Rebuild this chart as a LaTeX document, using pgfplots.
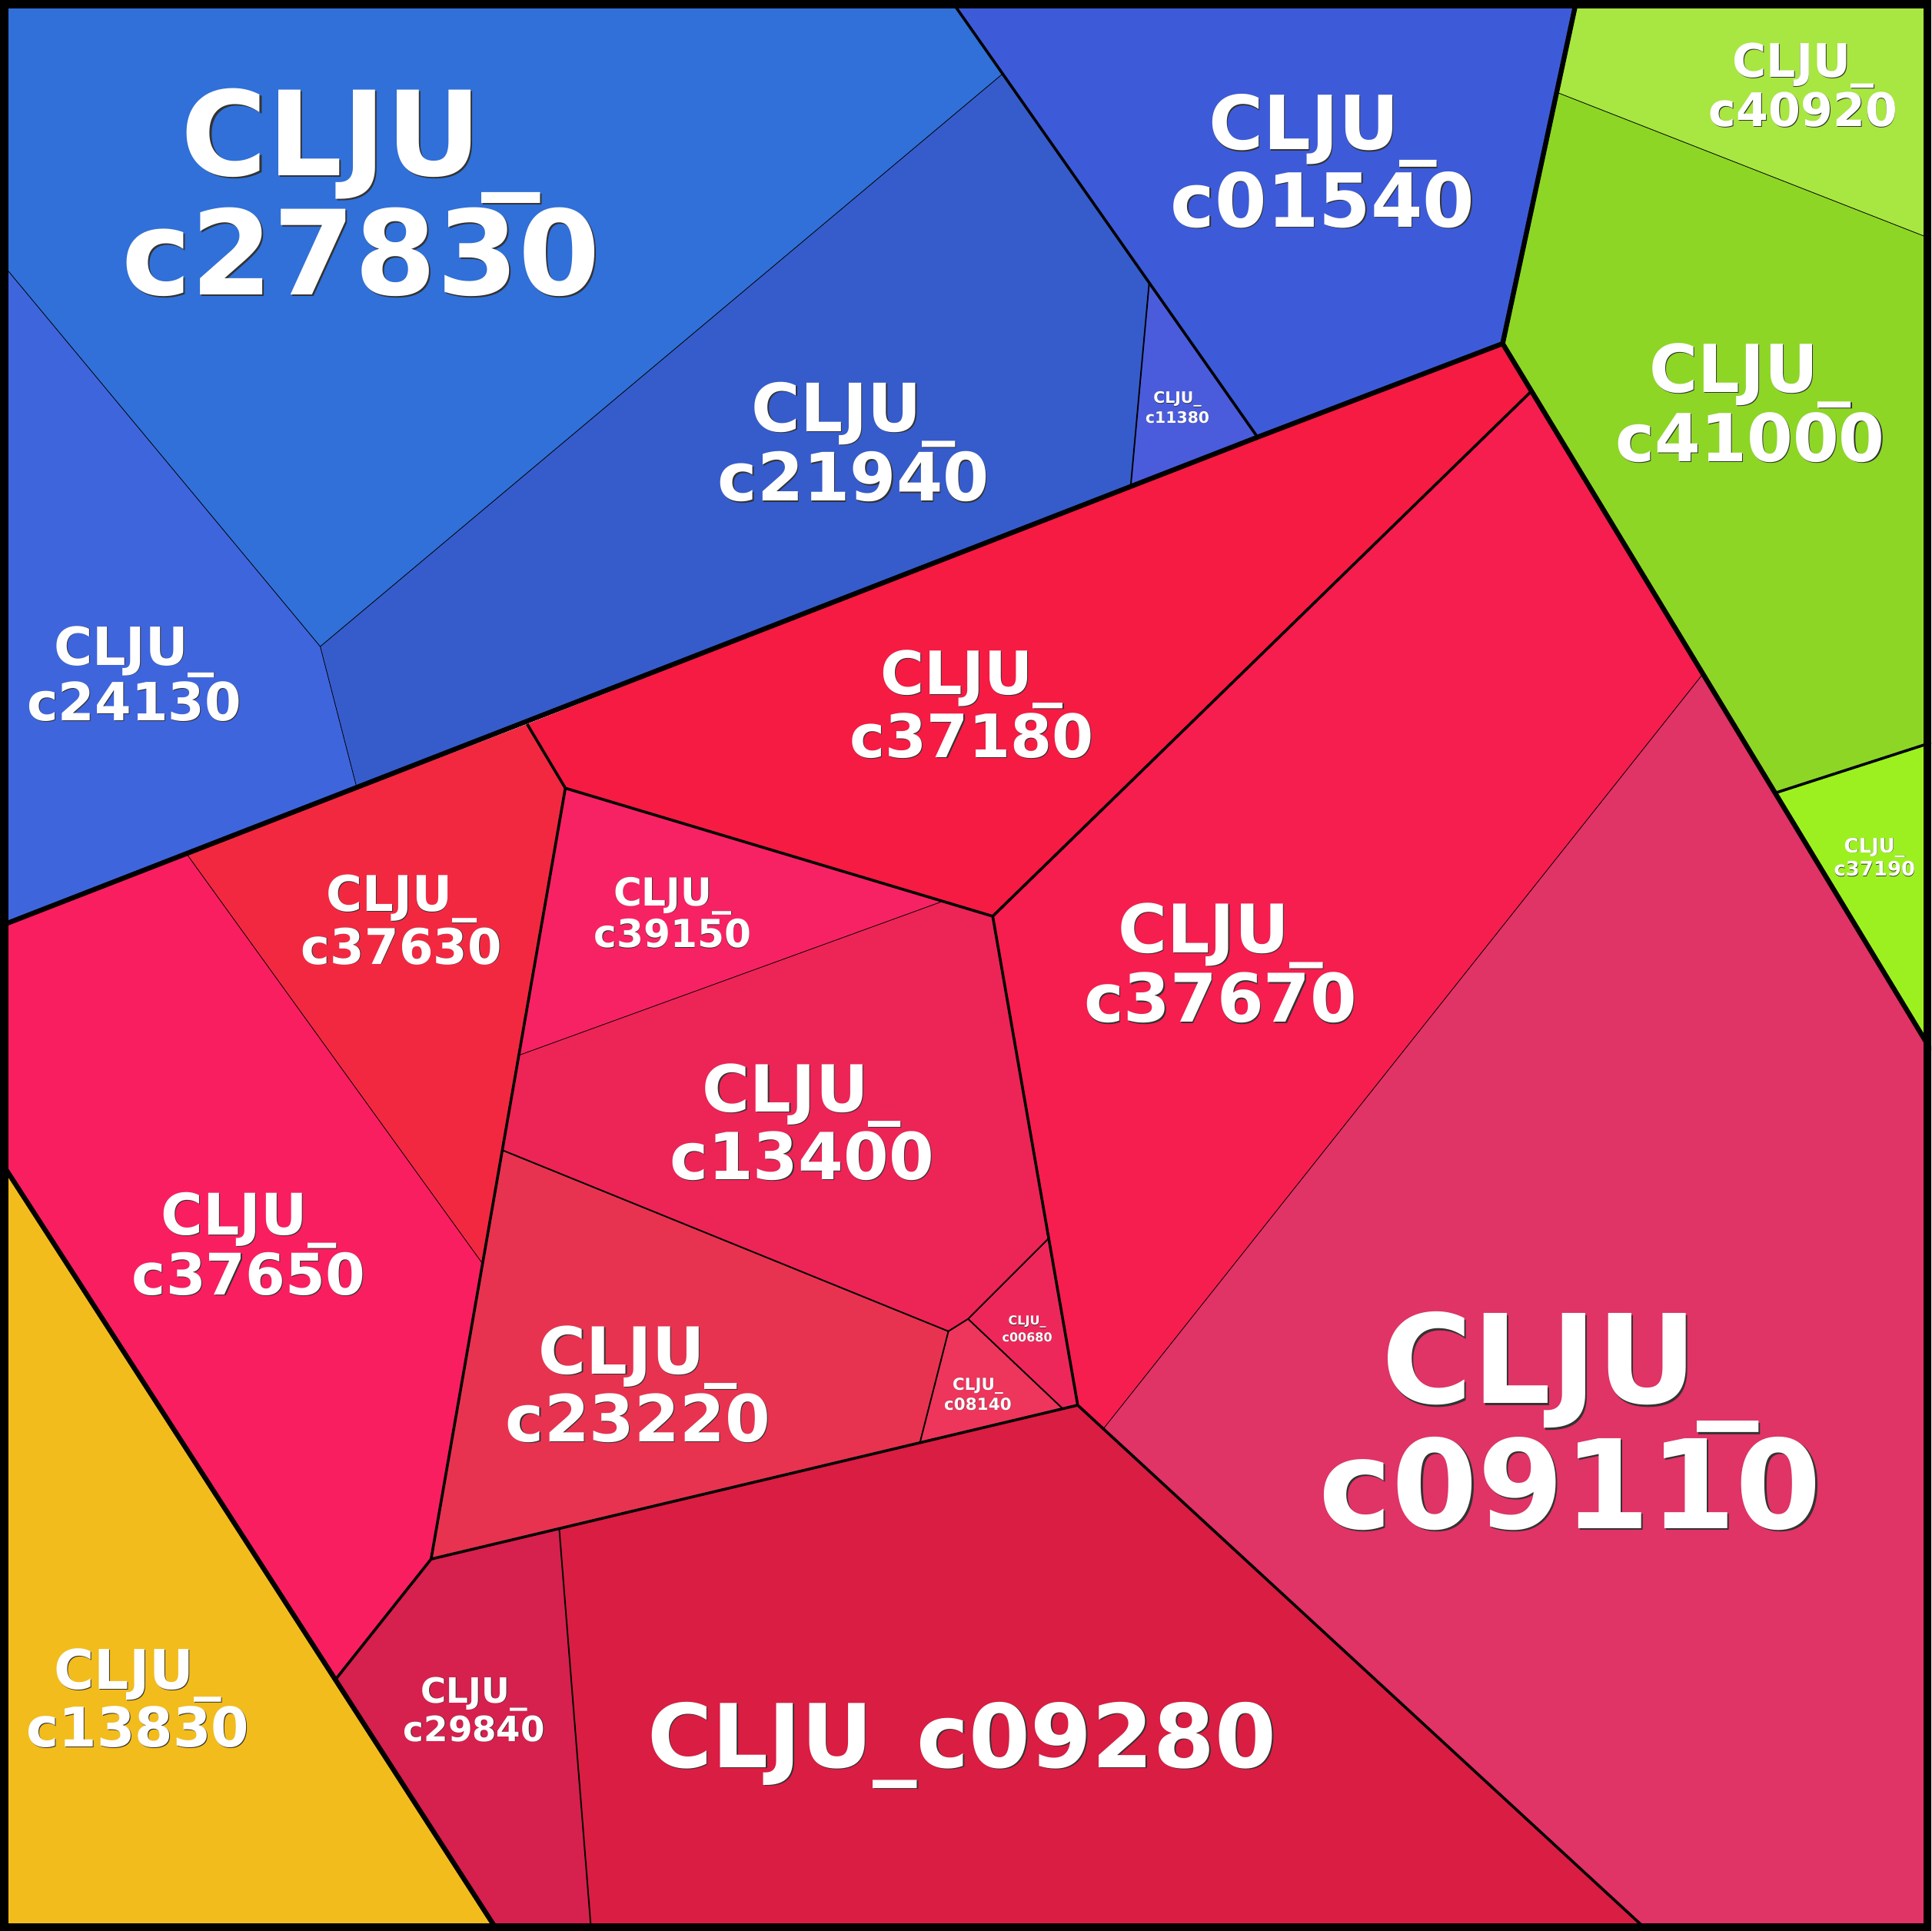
\documentclass[border=0pt]{standalone}
\usepackage{pgfplots}
\pgfplotsset{compat=1.18}
\usepackage{fontspec}
\setmainfont{DejaVu Sans}

\definecolor{cA}{HTML}{3070D8}% c27830
\definecolor{cB}{HTML}{365CCB}% c21940
\definecolor{cC}{HTML}{3F65DD}% c24130
\definecolor{cD}{HTML}{3D5BD8}% c01540
\definecolor{cE}{HTML}{4A5CDC}% c11380
\definecolor{cF}{HTML}{A8E641}% c40920
\definecolor{cG}{HTML}{8DD626}% c41000
\definecolor{cH}{HTML}{9DF020}% c37190
\definecolor{cI}{HTML}{F51B43}% c37180
\definecolor{cJ}{HTML}{F51E4F}% c37670
\definecolor{cK}{HTML}{E03366}% c09110
\definecolor{cL}{HTML}{F22841}% c37630
\definecolor{cM}{HTML}{F72263}% c39150
\definecolor{cN}{HTML}{ED2456}% c13400
\definecolor{cO}{HTML}{F91E60}% c37650
\definecolor{cP}{HTML}{E73350}% c23220
\definecolor{cQ}{HTML}{EE275B}% c00680
\definecolor{cR}{HTML}{EE355C}% c08140
\definecolor{cS}{HTML}{D6204E}% c29840
\definecolor{cT}{HTML}{DA1D42}% c09280
\definecolor{cU}{HTML}{F2BC1D}% c13830

\newcommand{\lab}[5]{%
  \node[font=\fontsize{#3}{#4}\selectfont\bfseries, align=center, inner sep=0pt,
        text=black!80, xshift={0.014*#3pt}, yshift={-0.014*#3pt}] at (axis cs:#1,#2) {#5};
  \node[font=\fontsize{#3}{#4}\selectfont\bfseries, align=center, inner sep=0pt,
        text=white] at (axis cs:#1,#2) {#5};
}

\begin{document}
\begin{tikzpicture}
\begin{axis}[width=16cm, height=16cm, scale only axis, hide axis,
  xmin=0, xmax=1568, ymin=0, ymax=1568, y dir=reverse, clip=true]

% ---- cells ----
\addplot[fill=cA, draw=none] coordinates {(0,0) (772,0) (814,60) (260,525) (0,212)};
\addplot[fill=cB, draw=none] coordinates {(814,60) (933,230) (918,395) (290,641) (260,525)};
\addplot[fill=cC, draw=none] coordinates {(0,212) (260,525) (290,641) (0,752)};
\addplot[fill=cD, draw=none] coordinates {(772,0) (1280,0) (1220,279) (1021,355)};
\addplot[fill=cE, draw=none] coordinates {(933,230) (1021,355) (918,395)};
\addplot[fill=cF, draw=none] coordinates {(1280,0) (1568,0) (1568,194) (1264,75)};
\addplot[fill=cG, draw=none] coordinates {(1264,75) (1568,194) (1568,603) (1441,644) (1220,279)};
\addplot[fill=cH, draw=none] coordinates {(1441,644) (1568,603) (1568,852)};
\addplot[fill=cI, draw=none] coordinates {(428,588) (1021,355) (1220,279) (1243,318) (806,744) (459,640)};
\addplot[fill=cJ, draw=none] coordinates {(1243,318) (1382,548) (896,1160) (875,1141) (806,744)};
\addplot[fill=cK, draw=none] coordinates {(1382,548) (1441,644) (1568,852) (1568,1568) (1338,1568) (896,1160)};
\addplot[fill=cT, draw=none] coordinates {(454,1241) (875,1141) (1338,1568) (480,1568)};
\addplot[fill=cS, draw=none] coordinates {(350,1266) (454,1241) (480,1568) (404,1568) (273,1363)};
\addplot[fill=cU, draw=none] coordinates {(0,942) (273,1363) (404,1568) (0,1568)};
\addplot[fill=cO, draw=none] coordinates {(0,752) (152,694) (391,1025) (350,1266) (273,1363) (0,942)};
\addplot[fill=cL, draw=none] coordinates {(152,694) (428,588) (459,640) (391,1025)};
\addplot[fill=cM, draw=none] coordinates {(459,640) (765,732) (421,857)};
\addplot[fill=cN, draw=none] coordinates {(421,857) (765,732) (806,744) (851,1006) (786,1071) (770,1081) (408,934)};
\addplot[fill=cP, draw=none] coordinates {(408,934) (770,1081) (747,1171) (454,1241) (350,1266)};
\addplot[fill=cQ, draw=none] coordinates {(786,1071) (851,1006) (875,1141) (863,1144)};
\addplot[fill=cR, draw=none] coordinates {(770,1081) (786,1071) (863,1144) (747,1171)};

% ---- hairlines ----
\addplot[draw=black, line width=0.15pt] coordinates {(0,212) (260,525) (814,60)};
\addplot[draw=black, line width=0.15pt] coordinates {(260,525) (290,641)};
\addplot[draw=black, line width=0.15pt] coordinates {(1264,75) (1568,194)};
\addplot[draw=black, line width=0.15pt] coordinates {(896,1160) (1382,548)};
\addplot[draw=black, line width=0.15pt] coordinates {(152,694) (391,1025)};
\addplot[draw=black, line width=0.15pt] coordinates {(421,857) (765,732)};
% ---- level 3 ----
\addplot[draw=black, line width=0.35pt] coordinates {(933,230) (918,395)};
\addplot[draw=black, line width=0.35pt] coordinates {(408,934) (770,1081) (786,1071) (851,1006)};
\addplot[draw=black, line width=0.35pt] coordinates {(786,1071) (863,1144)};
\addplot[draw=black, line width=0.35pt] coordinates {(770,1081) (747,1171)};
\addplot[draw=black, line width=0.35pt] coordinates {(454,1241) (480,1568)};
% ---- level 2 ----
\addplot[draw=black, line width=0.65pt] coordinates {(772,0) (1021,355)};
\addplot[draw=black, line width=0.65pt] coordinates {(1441,644) (1568,603)};
\addplot[draw=black, line width=0.65pt] coordinates {(428,588) (459,640) (806,744) (1243,318)};
\addplot[draw=black, line width=0.65pt] coordinates {(806,744) (875,1141) (1338,1568)};
\addplot[draw=black, line width=0.65pt] coordinates {(459,640) (350,1266) (875,1141)};
\addplot[draw=black, line width=0.65pt] coordinates {(273,1363) (350,1266)};
% ---- level 1 ----
\addplot[draw=black, line width=1.15pt] coordinates {(0,752) (1021,355) (1220,279) (1280,0)};
\addplot[draw=black, line width=1.15pt] coordinates {(1220,279) (1568,853)};
\addplot[draw=black, line width=1.15pt] coordinates {(0,942) (404,1568)};
% ---- border ----
\addplot[draw=black, line width=1.9pt] coordinates {(3.3,3.3) (1564.7,3.3) (1564.7,1564.7) (3.3,1564.7) (3.3,3.3) (1564.7,3.3)};

% ---- labels ----
\lab{293}{156}{27.7}{26.6}{CLJU\_\\c27830}
\lab{1275}{1154}{29.1}{28.0}{CLJU\_\\c09110}
\lab{781}{1417}{20.8}{20.0}{CLJU\_c09280}
\lab{1074}{131}{17.6}{16.9}{CLJU\_\\c01540}
\lab{693}{359}{15.7}{15.1}{CLJU\_\\c21940}
\lab{1421}{327}{15.6}{15.0}{CLJU\_\\c41000}
\lab{1464}{69}{10.9}{10.5}{CLJU\_\\c40920}
\lab{109}{547}{12.4}{11.9}{CLJU\_\\c24130}
\lab{789}{572}{14.1}{13.5}{CLJU\_\\c37180}
\lab{991}{782}{15.8}{15.2}{CLJU\_\\c37670}
\lab{326}{747}{11.6}{11.1}{CLJU\_\\c37630}
\lab{546}{741}{9.1}{8.7}{CLJU\_\\c39150}
\lab{651}{911}{15.3}{14.7}{CLJU\_\\c13400}
\lab{202}{1010}{13.5}{13.0}{CLJU\_\\c37650}
\lab{518}{1124}{15.3}{14.7}{CLJU\_\\c23220}
\lab{112}{1379}{12.9}{12.4}{CLJU\_\\c13830}
\lab{385}{1388}{8.2}{7.9}{CLJU\_\\c29840}
\lab{956}{331}{3.7}{3.6}{CLJU\_\\c11380}
\lab{834}{1079}{2.9}{2.8}{CLJU\_\\c00680}
\lab{794}{1132}{3.9}{3.7}{CLJU\_\\c08140}
\lab{1522}{696}{4.7}{4.5}{CLJU\_\\c37190}
\end{axis}
\end{tikzpicture}
\end{document}
